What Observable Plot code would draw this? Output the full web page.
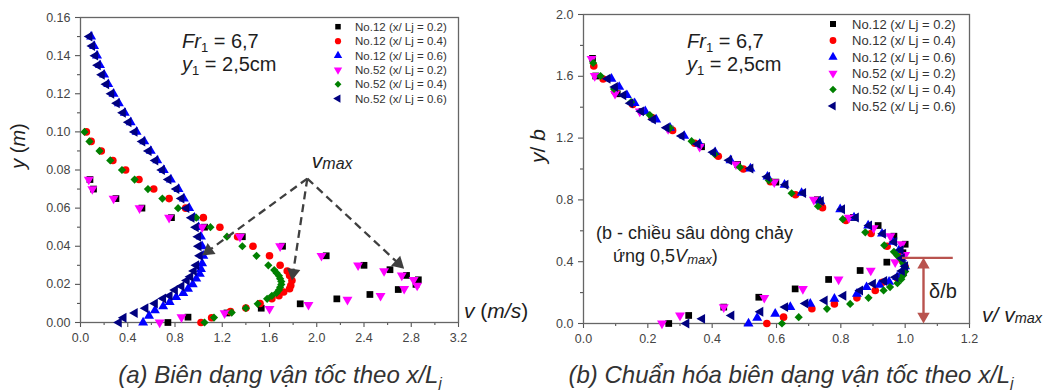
<!DOCTYPE html>
<html><head><meta charset="utf-8">
<script src="https://cdn.jsdelivr.net/npm/d3@7"></script>
<script src="https://cdn.jsdelivr.net/npm/@observablehq/plot@0.6"></script>
<style>
body{margin:0;background:#fff;}
#wrap{position:relative;width:1048px;height:390px;overflow:hidden;background:#fff;}
</style></head><body><div id="wrap"></div>
<script>
const FONT = '"Liberation Sans", Arial, sans-serif';

// ---------- Panel (a): v (m/s) vs y (m) ----------
const vA_12_02 = [0.08,0.11,0.30,0.52,0.77,1.05,1.37,1.71,2.08,2.40,2.62,2.76,2.86,2.84,2.69,2.45,2.17,1.86,1.53,1.24,0.91,0.74];
const yA_12_02 = [0.075,0.070,0.065,0.060,0.055,0.050,0.045,0.040,0.035,0.030,0.0277,0.0247,0.0224,0.020,0.0173,0.0147,0.0124,0.0098,0.0075,0.005,0.0028,0];
const vA_12_04 = [0.05,0.09,0.176,0.274,0.382,0.495,0.62,0.75,0.89,1.04,1.18,1.33,1.46,1.60,1.69,1.75,1.77,1.79,1.78,1.77,1.72,1.68,1.62,1.52,1.40,1.27,1.11,1.02];
const yA_12_04 = [0.100,0.095,0.090,0.085,0.080,0.075,0.070,0.065,0.060,0.055,0.050,0.045,0.040,0.035,0.030,0.027,0.0247,0.022,0.0194,0.0177,0.016,0.014,0.0125,0.010,0.0076,0.0057,0.0025,0];
const vA_12_06 = [0.09,0.115,0.14,0.165,0.20,0.235,0.28,0.325,0.375,0.425,0.475,0.54,0.595,0.65,0.705,0.765,0.83,0.875,0.92,0.965,1.0,1.02,1.03,1.04,1.03,1.02,1.01,0.98,0.95,0.91,0.87,0.81,0.755,0.70,0.63,0.58,0.53];
const yA_12_06 = [0.150,0.145,0.140,0.135,0.130,0.125,0.120,0.115,0.110,0.105,0.100,0.095,0.090,0.085,0.080,0.075,0.070,0.065,0.060,0.055,0.050,0.045,0.040,0.035,0.031,0.028,0.0255,0.023,0.020,0.0177,0.0154,0.0133,0.0107,0.0084,0.0063,0.0035,0];
const vA_52_02 = [0.07,0.10,0.28,0.50,0.75,1.03,1.35,1.69,2.04,2.35,2.57,2.72,2.82,2.85,2.74,2.54,2.26,1.93,1.60,1.22,0.855,0.67];
const yA_52_02 = [0.075,0.070,0.065,0.060,0.055,0.050,0.045,0.040,0.035,0.030,0.027,0.0247,0.0224,0.0194,0.0177,0.014,0.012,0.0093,0.0072,0.0049,0.0028,0];
const vA_52_04 = [0.034,0.076,0.161,0.252,0.351,0.458,0.571,0.693,0.826,0.98,1.10,1.24,1.37,1.49,1.59,1.64,1.66,1.68,1.69,1.70,1.70,1.69,1.68,1.66,1.62,1.58,1.50,1.40,1.28,1.13,1.05];
const yA_52_04 = [0.100,0.095,0.090,0.085,0.080,0.075,0.070,0.065,0.060,0.055,0.050,0.045,0.040,0.035,0.030,0.0275,0.026,0.0245,0.023,0.0215,0.020,0.0185,0.017,0.0155,0.014,0.0124,0.0098,0.0075,0.0052,0.0026,0];
const vA_52_06 = [0.076,0.099,0.125,0.147,0.181,0.218,0.261,0.308,0.359,0.407,0.458,0.524,0.577,0.634,0.690,0.745,0.812,0.855,0.897,0.94,0.976,0.996,1.0,1.01,0.98,0.96,0.93,0.90,0.855,0.80,0.755,0.70,0.63,0.55,0.46,0.365,0.325];
const yA_52_06 = [0.150,0.145,0.140,0.135,0.130,0.125,0.120,0.115,0.110,0.105,0.100,0.095,0.090,0.085,0.080,0.075,0.070,0.065,0.060,0.055,0.050,0.045,0.040,0.035,0.030,0.027,0.024,0.022,0.019,0.017,0.014,0.0126,0.010,0.0075,0.005,0.0025,0];

const xTicksA = [0,0.4,0.8,1.2,1.6,2.0,2.4,2.8,3.2];
const xMinorA = [0.2,0.6,1.0,1.4,1.8,2.2,2.6,3.0];
const yTicksA = [0,0.02,0.04,0.06,0.08,0.10,0.12,0.14,0.16];
const yMinorA = [0.01,0.03,0.05,0.07,0.09,0.11,0.13,0.15];

// v_max annotation (apex and arrow tips, in data units of panel a)
const vmaxApex = [1.92, 0.0755];
const vmaxTipsV = [1.03, 1.79, 2.74];
const vmaxTipsY = [0.0352, 0.022, 0.0282];

// ---------- Panel (b): v/vmax vs y/b ----------
const xB_12_02 = [0.028,0.038,0.105,0.182,0.269,0.367,0.479,0.598,0.727,0.839,0.916,0.965,1.0,0.993,0.943,0.86,0.762,0.658,0.545,0.436,0.327,0.265];
const yB_12_02 = [1.716,1.602,1.487,1.373,1.259,1.144,1.03,0.915,0.801,0.686,0.634,0.565,0.513,0.458,0.397,0.343,0.285,0.224,0.17,0.106,0.052,0];
const xB_12_04 = [0.032,0.061,0.098,0.153,0.213,0.277,0.346,0.419,0.497,0.581,0.659,0.743,0.816,0.894,0.944,0.978,0.989,1.0,0.994,0.975,0.93,0.907,0.85,0.78,0.71,0.622,0.57];
const yB_12_04 = [1.667,1.583,1.5,1.417,1.333,1.25,1.167,1.083,1.0,0.917,0.833,0.75,0.667,0.583,0.5,0.45,0.412,0.367,0.323,0.295,0.267,0.214,0.166,0.127,0.095,0.041,0];
const xB_12_06 = [0.087,0.111,0.135,0.159,0.192,0.226,0.269,0.313,0.361,0.409,0.457,0.519,0.572,0.625,0.678,0.736,0.798,0.841,0.885,0.928,0.962,0.981,0.99,1.0,0.99,0.975,0.95,0.92,0.88,0.85,0.78,0.705,0.643,0.596,0.54,0.513];
const yB_12_06 = [1.584,1.531,1.478,1.426,1.373,1.32,1.267,1.214,1.162,1.109,1.056,1.003,0.95,0.898,0.845,0.792,0.739,0.686,0.634,0.581,0.528,0.475,0.422,0.37,0.33,0.30,0.27,0.25,0.235,0.192,0.16,0.127,0.106,0.063,0.037,0];
const xB_52_02 = [0.025,0.035,0.098,0.175,0.263,0.361,0.474,0.593,0.716,0.825,0.902,0.954,0.989,1.0,0.969,0.893,0.793,0.682,0.562,0.436,0.30,0.244];
const yB_52_02 = [1.713,1.602,1.487,1.373,1.259,1.144,1.03,0.915,0.801,0.686,0.618,0.565,0.513,0.444,0.397,0.343,0.285,0.224,0.166,0.106,0.052,0];
const xB_52_04 = [0.03,0.053,0.095,0.148,0.206,0.269,0.336,0.408,0.486,0.576,0.647,0.729,0.806,0.876,0.935,0.965,0.976,0.988,0.994,1.0,1.0,0.994,0.988,0.976,0.953,0.933,0.886,0.829,0.757,0.669,0.617];
const yB_52_04 = [1.686,1.602,1.518,1.433,1.349,1.265,1.18,1.096,1.012,0.927,0.843,0.759,0.675,0.59,0.506,0.464,0.438,0.413,0.388,0.363,0.337,0.312,0.287,0.261,0.236,0.214,0.166,0.127,0.095,0.041,0];
const xB_52_06 = [0.075,0.098,0.124,0.146,0.179,0.216,0.258,0.305,0.355,0.403,0.453,0.519,0.571,0.628,0.683,0.738,0.804,0.847,0.888,0.931,0.966,0.986,0.99,1.0,0.99,0.97,0.935,0.90,0.86,0.808,0.75,0.69,0.627,0.55,0.46,0.369,0.32];
const yB_52_06 = [1.584,1.531,1.478,1.426,1.373,1.32,1.267,1.214,1.162,1.109,1.056,1.003,0.95,0.898,0.845,0.792,0.739,0.686,0.634,0.581,0.528,0.475,0.422,0.37,0.34,0.30,0.275,0.257,0.214,0.18,0.149,0.13,0.106,0.076,0.052,0.03,0];

const xTicksB = [0,0.2,0.4,0.6,0.8,1.0,1.2];
const xMinorB = [0.1,0.3,0.5,0.7,0.9,1.1];
const yTicksB = [0,0.4,0.8,1.2,1.6,2.0];
const yMinorB = [0.2,0.6,1.0,1.4,1.8];

// delta/b annotation (panel b data units)
const deltaLevel = 0.425;
const deltaArrowX = 1.057;
const deltaLineX = [0.99, 1.148];

const legendA = ["No.12 (x/ Lj = 0.2)","No.12 (x/ Lj = 0.4)","No.12  (x/ Lj = 0.6)","No.52  (x/ Lj = 0.2)","No.52 (x/ Lj = 0.4)","No.52 (x/ Lj = 0.6)"];
const legendB = ["No.12  (x/ Lj = 0.2)","No.12  (x/ Lj = 0.4)","No.12  (x/ Lj = 0.6)","No.52 (x/ Lj = 0.2)","No.52 (x/ Lj = 0.4)","No.52 (x/ Lj = 0.6)"];

// ---------- styles ----------
const st = [
  {symbol:"square",   d3s:d3.symbolSquare,   fill:"#000000", rotate:0,   r:3.8},
  {symbol:"circle",   d3s:d3.symbolCircle,   fill:"#ff0000", rotate:0,   r:3.8},
  {symbol:"triangle", d3s:d3.symbolTriangle, fill:"#0000ff", rotate:0,   r:3.7},
  {symbol:"triangle", d3s:d3.symbolTriangle, fill:"#ff00ff", rotate:180, r:3.7},
  {symbol:"diamond2", d3s:d3.symbolDiamond2, fill:"#008000", rotate:0,   r:3.7},
  {symbol:"triangle", d3s:d3.symbolTriangle, fill:"#000080", rotate:270, r:3.7}
];
const layA = {width:524, height:352, marginLeft:80, marginRight:66, marginTop:17, marginBottom:30};
const layB = {width:524, height:353, marginLeft:59, marginRight:79, marginTop:14, marginBottom:30};
const leftB = 524;

const rowsOf = (xs, ys) => xs.map((v, i) => ({x: v, y: ys[i]}));
const seriesA = [[vA_12_02,yA_12_02],[vA_12_04,yA_12_04],[vA_12_06,yA_12_06],[vA_52_02,yA_52_02],[vA_52_04,yA_52_04],[vA_52_06,yA_52_06]];
const seriesB = [[xB_12_02,yB_12_02],[xB_12_04,yB_12_04],[xB_12_06,yB_12_06],[xB_52_02,yB_52_02],[xB_52_04,yB_52_04],[xB_52_06,yB_52_06]];

function dotMarks(series) {
  return series.map(([xs, ys], k) => Plot.dot(rowsOf(xs, ys), {x:"x", y:"y", symbol: st[k].symbol, fill: st[k].fill, r: st[k].r, rotate: st[k].rotate}));
}
function axes(xT, xM, yT, yM, yFmt) {
  const common = {stroke:"#555", fill:"#444", fontSize: 12.5, label: null, strokeWidth: 1.1};
  return [
    Plot.axisX({...common, ticks: xT, tickSize: 5, tickPadding: 6, tickFormat: d => d.toFixed(1)}),
    Plot.axisX({...common, ticks: xM, tickSize: 3, tickFormat: () => ""}),
    Plot.axisY({...common, ticks: yT, tickSize: 5, tickPadding: 5, tickFormat: d => d.toFixed(yFmt)}),
    Plot.axisY({...common, ticks: yM, tickSize: 3, tickFormat: () => ""}),
    Plot.frame({stroke:"#666", strokeWidth:1.3})
  ];
}
// arrow head placement (screen-space direction -> data position + rotation)
function arrowGeo(x1, y1, x2, y2, sx, sy, r) {
  const hy = Math.sqrt(Math.PI * r * r / (Math.sqrt(3) * 3));
  const p1 = [sx(x1), sy(y1)], p2 = [sx(x2), sy(y2)];
  const dx = p2[0] - p1[0], dy = p2[1] - p1[1], L = Math.hypot(dx, dy);
  const ux = dx / L, uy = dy / L;
  const c = [p2[0] - ux * 2 * hy, p2[1] - uy * 2 * hy];
  return {x1, y1, x2: sx.invert(c[0]), y2: sy.invert(c[1]), hx: sx.invert(c[0]), hy: sy.invert(c[1]), rot: Math.atan2(ux, -uy) * 180 / Math.PI};
}

const sxA = d3.scaleLinear([0, 3.2], [layA.marginLeft, layA.width - layA.marginRight]);
const syA = d3.scaleLinear([0, 0.16], [layA.height - layA.marginBottom, layA.marginTop]);
const sxB = d3.scaleLinear([0, 1.2], [layB.marginLeft, layB.width - layB.marginRight]);
const syB = d3.scaleLinear([0, 2.0], [layB.height - layB.marginBottom, layB.marginTop]);

const vmaxGeo = vmaxTipsV.map((v, i) => arrowGeo(vmaxApex[0], vmaxApex[1], v, vmaxTipsY[i], sxA, syA, 5));
const dGeo = [
  arrowGeo(deltaArrowX, deltaLevel / 2, deltaArrowX, deltaLevel, sxB, syB, 4.6),
  arrowGeo(deltaArrowX, deltaLevel / 2, deltaArrowX, 0, sxB, syB, 4.6)
];
const DCOL = "#b9534e";

const plotA = Plot.plot({
  ...layA,
  style: {fontFamily: FONT, background: "transparent", overflow: "visible"},
  x: {domain: [0, 3.2]},
  y: {domain: [0, 0.16]},
  marks: [
    ...axes(xTicksA, xMinorA, yTicksA, yMinorA, 2),
    ...dotMarks(seriesA),
    Plot.link(vmaxGeo, {x1:"x1", y1:"y1", x2:"x2", y2:"y2", stroke:"#3f3f3f", strokeWidth:2.3, strokeDasharray:"8,5"}),
    Plot.dot(vmaxGeo, {x:"hx", y:"hy", symbol:"triangle", r:5, fill:"#3f3f3f", rotate:"rot"})
  ]
});
const plotB = Plot.plot({
  ...layB,
  style: {fontFamily: FONT, background: "transparent", overflow: "visible"},
  x: {domain: [0, 1.2]},
  y: {domain: [0, 2.0]},
  marks: [
    ...axes(xTicksB, xMinorB, yTicksB, yMinorB, 1),
    ...dotMarks(seriesB),
    Plot.link([{a: deltaLineX[0], b: deltaLineX[1], y: deltaLevel}], {x1:"a", x2:"b", y1:"y", y2:"y", stroke:DCOL, strokeWidth:2.4}),
    Plot.link([{x: deltaArrowX, a: dGeo[0].y2, b: dGeo[1].y2}], {x1:"x", x2:"x", y1:"a", y2:"b", stroke:DCOL, strokeWidth:2.4}),
    Plot.dot(dGeo, {x:"hx", y:"hy", symbol:"triangle", r:4.6, fill:DCOL, rotate:"rot"})
  ]
});

const wrap = document.getElementById("wrap");
for (const [el, left] of [[plotA, 0], [plotB, leftB]]) {
  el.style.position = "absolute"; el.style.left = left + "px"; el.style.top = "0px";
  el.style.maxWidth = "none";
  wrap.appendChild(el);
}

// ---------- overlay text (titles, labels, legends) ----------
const ov = d3.select(wrap).append("svg").attr("width", 1048).attr("height", 390)
  .style("position", "absolute").style("left", 0).style("top", 0)
  .style("pointer-events", "none").style("font-family", FONT).style("white-space", "pre");

function rich(x, y, parts, o = {}) {
  const t = ov.append("text").attr("x", x).attr("y", y).attr("font-size", o.size || 18).attr("fill", o.fill || "#1e1e1e");
  if (o.anchor) t.attr("text-anchor", o.anchor);
  if (o.italic) t.attr("font-style", "italic");
  if (o.rotate) t.attr("transform", `rotate(${o.rotate},${x},${y})`);
  let shift = 0;
  for (const p of parts) {
    const s = t.append("tspan").text(p.t);
    if (p.i) s.attr("font-style", "italic");
    if (p.size) s.attr("font-size", p.size);
    const want = p.sub || 0;
    if (want !== shift) { s.attr("dy", want - shift); shift = want; }
  }
  return t;
}

// Panel (a) texts
rich(182, 48, [{t:"Fr", i:1}, {t:"1", size:13, sub:4}, {t:" = 6,7"}], {size:20});
rich(182, 71, [{t:"y", i:1}, {t:"1", size:13, sub:4}, {t:" = 2,5cm"}], {size:20});
rich(25, 146, [{t:"y", i:1}, {t:" ("}, {t:"m", i:1}, {t:")"}], {size:20, anchor:"middle", rotate:-90});
rich(464, 318, [{t:"v", i:1}, {t:" ("}, {t:"m/s", i:1}, {t:")"}], {size:21});
rich(layA.marginLeft + 0 + sxA(vmaxApex[0]) - layA.marginLeft + 5, syA(vmaxApex[1]) - 10,
     [{t:"v", i:1}, {t:"max", i:1, size:16, sub:1}], {size:21});
rich(280, 383, [{t:"(a) Biên dạng vận tốc theo x/L"}, {t:"j", size:15, sub:5}], {size:24, anchor:"middle", italic:true, fill:"#333"});

// Panel (b) texts
rich(687, 48, [{t:"Fr", i:1}, {t:"1", size:13, sub:4}, {t:" = 6,7"}], {size:20});
rich(687, 71, [{t:"y", i:1}, {t:"1", size:13, sub:4}, {t:" = 2,5cm"}], {size:20});
rich(545, 146, [{t:"y", i:1}, {t:"/ "}, {t:"b", i:1}], {size:21, anchor:"middle", rotate:-90});
rich(982, 322, [{t:"v/ v", i:1}, {t:"max", i:1, size:14.5, sub:1}], {size:21});
rich(596, 239, [{t:"(b - chiều sâu dòng chảy"}], {size:18});
rich(613, 262, [{t:"ứng 0,5"}, {t:"V", i:1}, {t:"max", i:1, size:13, sub:2}, {t:")"}], {size:18});
rich(leftB + sxB(deltaArrowX) + 6, 298, [{t:"δ/b"}], {size:20});
rich(791, 383, [{t:"(b) Chuẩn hóa biên dạng vận tốc theo x/L"}, {t:"j", size:15, sub:5}], {size:24, anchor:"middle", italic:true, fill:"#333"});

// Legends
function legend(labels, symX, textX, rows, fs, rr) {
  labels.forEach((lab, k) => {
    ov.append("path").attr("d", d3.symbol(st[k].d3s, Math.PI * rr * rr)())
      .attr("transform", `translate(${symX},${rows[k]}) rotate(${st[k].rotate})`).attr("fill", st[k].fill);
    ov.append("text").attr("x", textX).attr("y", rows[k]).attr("dy", "0.36em").attr("font-size", fs).attr("fill", "#333").text(lab);
  });
}
legend(legendA, 338, 355, [26.7, 41.2, 55.6, 70, 84.3, 98.6], 11.5, 3.1);
legend(legendB, 833, 852, [24, 40.5, 57, 73.3, 89.5, 106], 13, 3.4);
</script></body></html>
